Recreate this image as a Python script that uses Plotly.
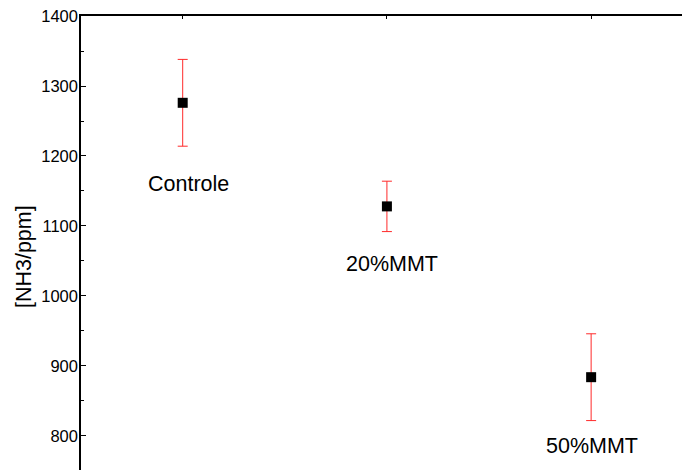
import plotly.graph_objects as go

# Mean NH3 concentration per treatment, with standard deviation
groups = ["Controle", "20%MMT", "50%MMT"]
group_pos = [1, 2, 3]
nh3_mean = [1276, 1128, 884]
nh3_err = [62, 36, 62]

# Where each group name is written (data coordinates)
label_x = [1.03, 2.024, 3.005]
label_y = [1160, 1046, 785]

y_ticks = [800, 900, 1000, 1100, 1200, 1300, 1400]

FONT = "Liberation Sans, Arial, sans-serif"
PLOT_W = 682 - 81

fig = go.Figure()
fig.add_trace(go.Scatter(
    x=group_pos,
    y=nh3_mean,
    mode="markers",
    marker=dict(symbol="square", size=10, color="black"),
    error_y=dict(type="data", array=nh3_err, color="#ff2a2a", thickness=1, width=5),
    showlegend=False,
    hoverinfo="x+y",
))

for g, x, y in zip(groups, label_x, label_y):
    fig.add_annotation(x=x, y=y, text=g, showarrow=False,
                       font=dict(family=FONT, size=21.5, color="black"),
                       xanchor="center", yanchor="middle")

# Vertical axis title
fig.add_annotation(xref="paper", yref="paper", x=-57 / PLOT_W, y=0.469,
                   text="[NH3/ppm]", textangle=-90, showarrow=False,
                   font=dict(family=FONT, size=21.5, color="black"),
                   xanchor="center", yanchor="middle")

fig.update_layout(
    width=682, height=470,
    margin=dict(l=81, r=0, t=16, b=0),
    paper_bgcolor="white", plot_bgcolor="white",
    font=dict(family=FONT, size=16, color="black"),
    xaxis=dict(
        range=[0.502, 3.445], side="top",
        showline=True, linecolor="black", linewidth=1.5,
        tickvals=group_pos, showticklabels=False,
        ticks="inside", ticklen=3, tickcolor="black",
        showgrid=False, zeroline=False, fixedrange=True,
    ),
    yaxis=dict(
        range=[751.4, 1400],
        showline=True, linecolor="black", linewidth=1.5,
        tickvals=y_ticks,
        ticks="inside", ticklen=5, tickcolor="black",
        ticklabelstandoff=-2,
        minor=dict(tickvals=[850, 950, 1050, 1150, 1250, 1350], ticks="inside",
                   ticklen=3, tickcolor="black"),
        tickfont=dict(family=FONT, size=16.5, color="black"),
        showgrid=False, zeroline=False,
    ),
)

fig.write_html("out.html")
